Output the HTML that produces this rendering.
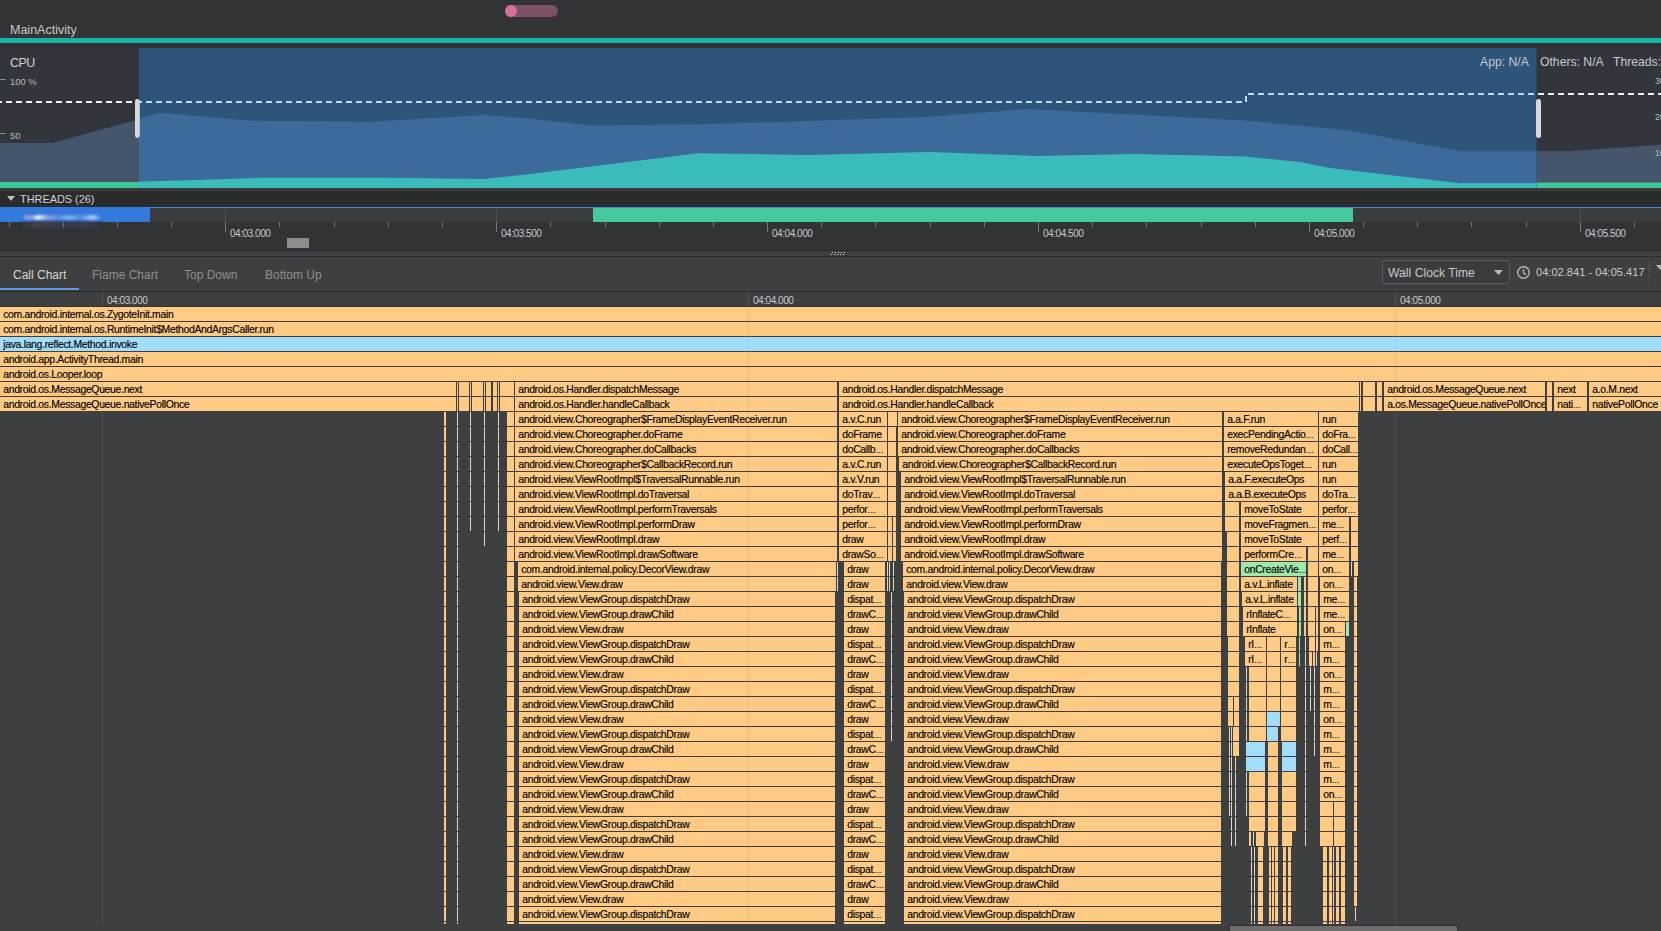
<!DOCTYPE html><html><head><meta charset="utf-8"><title>Call Chart</title><style>
*{margin:0;padding:0}
html,body{width:1661px;height:931px;overflow:hidden;background:#3e3f41}
body{position:relative;font-family:"Liberation Sans",sans-serif}
.a{position:absolute}
.t{white-space:nowrap;line-height:1}
#ch{position:absolute;left:0;top:307px;width:1661px;height:624px;background:#3e3f41}
#cv{position:absolute;left:0;top:0;width:1661px;height:931px}
i,b{position:absolute;display:block;font-style:normal;font-weight:normal}
b{height:14px;overflow:hidden;white-space:nowrap;font-size:10.4px;letter-spacing:-0.3px;line-height:16px;color:#000;padding-left:3.2px;-webkit-text-stroke:0.15px #000;box-sizing:border-box;text-overflow:clip}
s{text-decoration:none;font-size:8.4px;letter-spacing:-0.2px}
.o{background:#feca84}.u{background:#a2defc}.g{background:#9eeaae}
.os{background:repeating-linear-gradient(to bottom,#feca84 0,#feca84 14px,transparent 14px,transparent 15px)}
.us{background:repeating-linear-gradient(to bottom,#a2defc 0,#a2defc 14px,transparent 14px,transparent 15px)}
.c{background:#e2d8c6}.cs{background:repeating-linear-gradient(to bottom,#e2d8c6 0,#e2d8c6 14px,transparent 14px,transparent 15px)}
.gs{background:repeating-linear-gradient(to bottom,#9eeaae 0,#9eeaae 14px,transparent 14px,transparent 15px)}
.hl{position:absolute;font-size:10px;letter-spacing:-0.45px;line-height:1;color:#c8c8c8;white-space:nowrap}
</style></head><body>
<div class="a" style="left:0;top:0;width:1661px;height:38px;background:#323335"></div>
<div class="a t" style="left:10px;top:24px;font-size:12.5px;color:#c8c8c8">MainActivity</div>
<div class="a" style="left:505px;top:5px;width:53px;height:12px;border-radius:6px;background:#7c5166"></div>
<div class="a" style="left:505px;top:5px;width:12px;height:12px;border-radius:6px;background:#d4739b"></div>
<div class="a" style="left:0;top:38px;width:1661px;height:5px;background:#17b3a3"></div>
<div class="a" style="left:0;top:43px;width:1661px;height:5px;background:#323033"></div>
<svg class="a" style="left:0;top:0" width="1661" height="190" viewBox="0 0 1661 190"><defs><clipPath id="cs"><rect x="139" y="0" width="1397.5" height="190"/></clipPath><clipPath id="cu"><rect x="0" y="0" width="139" height="190"/><rect x="1536.5" y="0" width="124.5" height="190"/></clipPath></defs><rect x="0" y="48" width="1661" height="140" fill="#32363c"/><g clip-path="url(#cu)"><polygon points="0,143 52,143 138,119.5 159,112.7 250,120.6 371,121.8 484,115 530,118.7 592,125.5 698,124.3 771,122.3 930,116.8 1028,109 1245,120.6 1330,128.4 1357,131.7 1460,151.3 1568,151.3 1661,144.7 1661,188 0,188" fill="#45556b"/><polygon points="0,182 138,182 139,181.6 180,180.5 262,177.7 383,177.7 484,179 530,174 698,153.2 807,154.9 930,152 1038,156 1134,154 1245,156.5 1300,162 1330,168 1460,183.3 1536,183.3 1537,182.6 1661,182.4 1661,188 0,188" fill="#3fc99b"/></g><g clip-path="url(#cs)"><rect x="0" y="48" width="1661" height="140" fill="#2d5479"/><polygon points="0,143 52,143 138,119.5 159,112.7 250,120.6 371,121.8 484,115 530,118.7 592,125.5 698,124.3 771,122.3 930,116.8 1028,109 1245,120.6 1330,128.4 1357,131.7 1460,151.3 1568,151.3 1661,144.7 1661,188 0,188" fill="#3c6b9b"/><polygon points="0,182 138,182 139,181.6 180,180.5 262,177.7 383,177.7 484,179 530,174 698,153.2 807,154.9 930,152 1038,156 1134,154 1245,156.5 1300,162 1330,168 1460,183.3 1536,183.3 1537,182.6 1661,182.4 1661,188 0,188" fill="#3bbcba"/></g><g clip-path="url(#cu)"><path d="M0,102 H1246 V94 H1661" stroke="#f0f0f0" stroke-width="2" fill="none" stroke-dasharray="6 4" stroke-dashoffset="4"/></g><g clip-path="url(#cs)"><path d="M0,102 H1246 V94 H1661" stroke="#b5dcf8" stroke-width="2" fill="none" stroke-dasharray="6 4" stroke-dashoffset="4"/></g><rect x="0" y="79" width="6" height="1" fill="#8a8d90"/><rect x="0" y="133" width="6" height="1" fill="#8a8d90"/><rect x="135" y="99" width="4.8" height="39" rx="2.4" fill="#d8d8d8"/><rect x="1536" y="99" width="5" height="39" rx="2.5" fill="#d8d8d8"/></svg>
<div class="a t" style="left:10px;top:57px;font-size:12.4px;letter-spacing:-0.5px;color:#d0d0d0">CPU</div>
<div class="a t" style="left:10px;top:77px;font-size:9.4px;color:#bdbdbd">100 %</div>
<div class="a t" style="left:10px;top:131px;font-size:9.4px;color:#bdbdbd">50</div>
<div class="a t" style="left:1480px;top:56px;font-size:12.2px;color:#c4c8cc">App: N/A</div>
<div class="a t" style="left:1540px;top:56px;font-size:12.2px;color:#c4c8cc">Others: N/A</div>
<div class="a t" style="left:1613px;top:56px;font-size:12.2px;color:#c4c8cc">Threads:</div>
<div class="a t" style="left:1655px;top:77px;font-size:8.6px;color:#bdbdbd">30</div>
<div class="a t" style="left:1655px;top:113px;font-size:8.6px;color:#bdbdbd">20</div>
<div class="a t" style="left:1655px;top:149px;font-size:8.6px;color:#bdbdbd">10</div>
<div class="a" style="left:0;top:188px;width:1661px;height:3px;background:#38393b"></div>
<div class="a" style="left:0;top:191px;width:1661px;height:16px;background:#2b2b2c"></div>
<svg class="a" style="left:7px;top:196px" width="8" height="6"><polygon points="0,0 8,0 4,5" fill="#c0c0c0"/></svg>
<div class="a t" style="left:20px;top:194px;font-size:10.9px;color:#cfcfcf">THREADS (26)</div>
<div class="a" style="left:0;top:206px;width:1661px;height:1px;background:#1f2f47"></div>
<div class="a" style="left:0;top:207px;width:1661px;height:1px;background:#4f82cc"></div>
<div class="a" style="left:0;top:208px;width:1661px;height:14px;background:#3a3c3f"></div>
<div class="a" style="left:0;top:207px;width:150px;height:15px;background:#3679dd"></div>
<div class="a" style="left:593px;top:208px;width:760px;height:14px;background:#46c8a1"></div>
<div class="a" style="left:24px;top:215px;width:76px;height:5px;background:linear-gradient(90deg,rgba(170,170,240,.6),rgba(190,170,230,.7) 12%,rgba(230,255,255,.95) 18%,rgba(200,230,255,.8) 24%,rgba(190,160,220,.7) 32%,rgba(120,170,230,.5) 45%,rgba(150,200,240,.7) 60%,rgba(110,160,230,.5) 75%,rgba(180,210,255,.9) 90%,rgba(120,160,230,.4));filter:blur(0.8px)"></div>
<div class="a" style="left:0;top:222px;width:1661px;height:28px;background:#313335"></div>
<div class="a" style="left:20px;top:221px;width:84px;height:7px;background:linear-gradient(90deg,rgba(40,50,70,.5),rgba(70,70,80,.8) 20%,rgba(50,60,80,.8) 50%,rgba(60,60,90,.8) 80%,rgba(40,50,70,.4));filter:blur(1.2px)"></div>
<div class="a" style="left:9px;top:222px;width:1px;height:5px;background:#707376"></div>
<div class="a" style="left:63px;top:222px;width:1px;height:5px;background:#707376"></div>
<div class="a" style="left:117px;top:222px;width:1px;height:5px;background:#707376"></div>
<div class="a" style="left:171px;top:222px;width:1px;height:5px;background:#707376"></div>
<div class="a" style="left:225px;top:208px;width:1px;height:14px;background:#4b4d50"></div>
<div class="a" style="left:225px;top:222px;width:1px;height:10px;background:#75787b"></div>
<div class="a" style="left:279px;top:222px;width:1px;height:5px;background:#707376"></div>
<div class="a" style="left:334px;top:222px;width:1px;height:5px;background:#707376"></div>
<div class="a" style="left:388px;top:222px;width:1px;height:5px;background:#707376"></div>
<div class="a" style="left:442px;top:222px;width:1px;height:5px;background:#707376"></div>
<div class="a" style="left:496px;top:208px;width:1px;height:14px;background:#4b4d50"></div>
<div class="a" style="left:496px;top:222px;width:1px;height:10px;background:#75787b"></div>
<div class="a" style="left:550px;top:222px;width:1px;height:5px;background:#707376"></div>
<div class="a" style="left:605px;top:222px;width:1px;height:5px;background:#707376"></div>
<div class="a" style="left:659px;top:222px;width:1px;height:5px;background:#707376"></div>
<div class="a" style="left:713px;top:222px;width:1px;height:5px;background:#707376"></div>
<div class="a" style="left:767px;top:222px;width:1px;height:10px;background:#75787b"></div>
<div class="a" style="left:821px;top:222px;width:1px;height:5px;background:#707376"></div>
<div class="a" style="left:875px;top:222px;width:1px;height:5px;background:#707376"></div>
<div class="a" style="left:930px;top:222px;width:1px;height:5px;background:#707376"></div>
<div class="a" style="left:984px;top:222px;width:1px;height:5px;background:#707376"></div>
<div class="a" style="left:1038px;top:222px;width:1px;height:10px;background:#75787b"></div>
<div class="a" style="left:1092px;top:222px;width:1px;height:5px;background:#707376"></div>
<div class="a" style="left:1146px;top:222px;width:1px;height:5px;background:#707376"></div>
<div class="a" style="left:1201px;top:222px;width:1px;height:5px;background:#707376"></div>
<div class="a" style="left:1255px;top:222px;width:1px;height:5px;background:#707376"></div>
<div class="a" style="left:1309px;top:222px;width:1px;height:10px;background:#75787b"></div>
<div class="a" style="left:1363px;top:222px;width:1px;height:5px;background:#707376"></div>
<div class="a" style="left:1417px;top:222px;width:1px;height:5px;background:#707376"></div>
<div class="a" style="left:1471px;top:222px;width:1px;height:5px;background:#707376"></div>
<div class="a" style="left:1526px;top:222px;width:1px;height:5px;background:#707376"></div>
<div class="a" style="left:1580px;top:208px;width:1px;height:14px;background:#4b4d50"></div>
<div class="a" style="left:1580px;top:222px;width:1px;height:10px;background:#75787b"></div>
<div class="a" style="left:1634px;top:222px;width:1px;height:5px;background:#707376"></div>
<div class="a t" style="left:230px;top:229px;font-size:10px;letter-spacing:-0.45px;color:#c8c8c8">04:03.000</div>
<div class="a t" style="left:501px;top:229px;font-size:10px;letter-spacing:-0.45px;color:#c8c8c8">04:03.500</div>
<div class="a t" style="left:772px;top:229px;font-size:10px;letter-spacing:-0.45px;color:#c8c8c8">04:04.000</div>
<div class="a t" style="left:1043px;top:229px;font-size:10px;letter-spacing:-0.45px;color:#c8c8c8">04:04.500</div>
<div class="a t" style="left:1314px;top:229px;font-size:10px;letter-spacing:-0.45px;color:#c8c8c8">04:05.000</div>
<div class="a t" style="left:1585px;top:229px;font-size:10px;letter-spacing:-0.45px;color:#c8c8c8">04:05.500</div>
<div class="a" style="left:287px;top:238px;width:22px;height:10px;background:#8c8c8c"></div>
<div class="a" style="left:0;top:250px;width:1661px;height:1px;background:#2b2b2b"></div>
<div class="a" style="left:0;top:251px;width:1661px;height:5px;background:#3d3f42"></div>
<div class="a" style="left:832px;top:252px;width:1px;height:1px;background:#e0e0e0"></div>
<div class="a" style="left:835px;top:252px;width:1px;height:1px;background:#e0e0e0"></div>
<div class="a" style="left:838px;top:252px;width:1px;height:1px;background:#e0e0e0"></div>
<div class="a" style="left:841px;top:252px;width:1px;height:1px;background:#e0e0e0"></div>
<div class="a" style="left:844px;top:252px;width:1px;height:1px;background:#e0e0e0"></div>
<div class="a" style="left:831px;top:254px;width:1px;height:1px;background:#e0e0e0"></div>
<div class="a" style="left:834px;top:254px;width:1px;height:1px;background:#e0e0e0"></div>
<div class="a" style="left:837px;top:254px;width:1px;height:1px;background:#e0e0e0"></div>
<div class="a" style="left:840px;top:254px;width:1px;height:1px;background:#e0e0e0"></div>
<div class="a" style="left:843px;top:254px;width:1px;height:1px;background:#e0e0e0"></div>
<div class="a" style="left:0;top:256px;width:1661px;height:1px;background:#2b2b2b"></div>
<div class="a" style="left:0;top:257px;width:1661px;height:34px;background:#3e3f41"></div>
<div class="a t" style="left:13px;top:269px;font-size:12px;color:#d6d6d6">Call Chart</div>
<div class="a t" style="left:92px;top:269px;font-size:12px;color:#8c8f92">Flame Chart</div>
<div class="a t" style="left:184px;top:269px;font-size:12px;color:#8c8f92">Top Down</div>
<div class="a t" style="left:265px;top:269px;font-size:12px;color:#8c8f92">Bottom Up</div>
<div class="a" style="left:0;top:288px;width:79px;height:2px;background:#6499e0"></div>
<div class="a" style="left:1382px;top:260px;width:128px;height:24px;border:1px solid #5b5e61;border-radius:2px;background:#3a3d40;box-sizing:border-box"></div>
<div class="a t" style="left:1388px;top:267px;font-size:12.2px;color:#c8c8c8">Wall Clock Time</div>
<svg class="a" style="left:1494px;top:270px" width="9" height="5"><polygon points="0,0 9,0 4.5,5" fill="#b8b8b8"/></svg>
<svg class="a" style="left:1516px;top:265px" width="15" height="15" viewBox="0 0 15 15"><circle cx="7.5" cy="7.5" r="5.8" stroke="#b8b8b8" stroke-width="1.4" fill="none"/><path d="M7.5,4 V7.8 L10,9.6" stroke="#b8b8b8" stroke-width="1.3" fill="none"/></svg>
<div class="a t" style="left:1536px;top:267px;font-size:11.1px;color:#c8c8c8">04:02.841 - 04:05.417</div>
<div class="a" style="left:1649px;top:262px;width:1px;height:21px;background:repeating-linear-gradient(#777 0 1px,transparent 1px 3px)"></div>
<svg class="a" style="left:1656px;top:265px" width="9" height="5"><polygon points="0,0 9,0 4.5,5" fill="#b8b8b8"/></svg>
<div class="a" style="left:0;top:291px;width:1661px;height:1px;background:#2b2b2b"></div>
<div class="a" style="left:0;top:292px;width:1661px;height:15px;background:#3e3f41"></div>
<div class="a" style="left:102px;top:292px;width:1px;height:632px;background:#515356"></div>
<div class="hl" style="left:107px;top:296px">04:03.000</div>
<div class="a" style="left:748px;top:292px;width:1px;height:632px;background:#515356"></div>
<div class="hl" style="left:753px;top:296px">04:04.000</div>
<div class="a" style="left:1395px;top:292px;width:1px;height:632px;background:#515356"></div>
<div class="hl" style="left:1400px;top:296px">04:05.000</div>
<div class="a" style="left:0;top:306px;width:1661px;height:1px;background:#323232"></div>
<div id="cv"><b class="o" style="left:0px;top:307px;width:1661px">com.android.internal.os.ZygoteInit.main</b>
<b class="o" style="left:0px;top:322px;width:1661px">com.android.internal.os.RuntimeInit$MethodAndArgsCaller.run</b>
<b class="u" style="left:0px;top:337px;width:1661px">java.lang.reflect.Method.invoke</b>
<b class="o" style="left:0px;top:352px;width:1661px">android.app.ActivityThread.main</b>
<b class="o" style="left:0px;top:367px;width:1661px">android.os.Looper.loop</b>
<b class="o" style="left:0px;top:382px;width:456px">android.os.MessageQueue.next</b>
<b class="o" style="left:0px;top:397px;width:456px">android.os.MessageQueue.nativePollOnce</b>
<i class="os" style="left:457px;top:382px;width:1px;height:29px"></i>
<i class="os" style="left:459px;top:382px;width:10px;height:29px"></i>
<i class="os" style="left:470px;top:382px;width:1px;height:29px"></i>
<i class="os" style="left:472px;top:382px;width:11px;height:29px"></i>
<i class="os" style="left:484px;top:382px;width:1px;height:29px"></i>
<i class="os" style="left:486px;top:382px;width:5px;height:29px"></i>
<i class="os" style="left:493px;top:382px;width:4px;height:29px"></i>
<i class="os" style="left:498px;top:382px;width:1px;height:29px"></i>
<i class="os" style="left:500px;top:382px;width:14px;height:29px"></i>
<i class="os" style="left:444px;top:412px;width:2px;height:512px"></i>
<i class="cs" style="left:457px;top:412px;width:1px;height:512px"></i>
<i class="cs" style="left:470px;top:412px;width:1px;height:119px"></i>
<i class="cs" style="left:484px;top:412px;width:1px;height:134px"></i>
<i class="cs" style="left:498px;top:412px;width:1px;height:119px"></i>
<i class="os" style="left:507px;top:412px;width:7px;height:512px"></i>
<b class="o" style="left:515px;top:382px;width:322px">android.os.Handler.dispatchMessage</b>
<b class="o" style="left:515px;top:397px;width:322px">android.os.Handler.handleCallback</b>
<b class="o" style="left:515px;top:412px;width:322px">android.view.Choreographer$FrameDisplayEventReceiver.run</b>
<b class="o" style="left:515px;top:427px;width:322px">android.view.Choreographer.doFrame</b>
<b class="o" style="left:515px;top:442px;width:322px">android.view.Choreographer.doCallbacks</b>
<b class="o" style="left:515px;top:457px;width:322px">android.view.Choreographer$CallbackRecord.run</b>
<b class="o" style="left:515px;top:472px;width:322px">android.view.ViewRootImpl$TraversalRunnable.run</b>
<b class="o" style="left:515px;top:487px;width:322px">android.view.ViewRootImpl.doTraversal</b>
<b class="o" style="left:515px;top:502px;width:322px">android.view.ViewRootImpl.performTraversals</b>
<b class="o" style="left:515px;top:517px;width:322px">android.view.ViewRootImpl.performDraw</b>
<b class="o" style="left:515px;top:532px;width:322px">android.view.ViewRootImpl.draw</b>
<b class="o" style="left:515px;top:547px;width:322px">android.view.ViewRootImpl.drawSoftware</b>
<b class="o" style="left:518px;top:562px;width:318px">com.android.internal.policy.DecorView.draw</b>
<b class="o" style="left:518px;top:577px;width:318px">android.view.View.draw</b>
<b class="o" style="left:519px;top:592px;width:316px">android.view.ViewGroup.dispatchDraw</b>
<b class="o" style="left:519px;top:607px;width:316px">android.view.ViewGroup.drawChild</b>
<b class="o" style="left:519px;top:622px;width:316px">android.view.View.draw</b>
<b class="o" style="left:519px;top:637px;width:316px">android.view.ViewGroup.dispatchDraw</b>
<b class="o" style="left:519px;top:652px;width:316px">android.view.ViewGroup.drawChild</b>
<b class="o" style="left:519px;top:667px;width:316px">android.view.View.draw</b>
<b class="o" style="left:519px;top:682px;width:316px">android.view.ViewGroup.dispatchDraw</b>
<b class="o" style="left:519px;top:697px;width:316px">android.view.ViewGroup.drawChild</b>
<b class="o" style="left:519px;top:712px;width:316px">android.view.View.draw</b>
<b class="o" style="left:519px;top:727px;width:316px">android.view.ViewGroup.dispatchDraw</b>
<b class="o" style="left:519px;top:742px;width:316px">android.view.ViewGroup.drawChild</b>
<b class="o" style="left:519px;top:757px;width:316px">android.view.View.draw</b>
<b class="o" style="left:519px;top:772px;width:316px">android.view.ViewGroup.dispatchDraw</b>
<b class="o" style="left:519px;top:787px;width:316px">android.view.ViewGroup.drawChild</b>
<b class="o" style="left:519px;top:802px;width:316px">android.view.View.draw</b>
<b class="o" style="left:519px;top:817px;width:316px">android.view.ViewGroup.dispatchDraw</b>
<b class="o" style="left:519px;top:832px;width:316px">android.view.ViewGroup.drawChild</b>
<b class="o" style="left:519px;top:847px;width:316px">android.view.View.draw</b>
<b class="o" style="left:519px;top:862px;width:316px">android.view.ViewGroup.dispatchDraw</b>
<b class="o" style="left:519px;top:877px;width:316px">android.view.ViewGroup.drawChild</b>
<b class="o" style="left:519px;top:892px;width:316px">android.view.View.draw</b>
<b class="o" style="left:519px;top:907px;width:316px">android.view.ViewGroup.dispatchDraw</b>
<b class="o" style="left:519px;top:922px;width:316px;height:2px">android.view.ViewGroup.drawChild</b>
<i class="cs" style="left:837px;top:562px;width:1px;height:29px"></i>
<b class="o" style="left:839px;top:382px;width:520px">android.os.Handler.dispatchMessage</b>
<b class="o" style="left:839px;top:397px;width:520px">android.os.Handler.handleCallback</b>
<b class="o" style="left:839px;top:412px;width:48px">a.v.C.run</b>
<b class="o" style="left:839px;top:427px;width:48px">doFrame</b>
<b class="o" style="left:839px;top:442px;width:48px">doCallb<s>…</s></b>
<b class="o" style="left:839px;top:457px;width:48px">a.v.C.run</b>
<b class="o" style="left:839px;top:472px;width:48px">a.v.V.run</b>
<b class="o" style="left:839px;top:487px;width:48px">doTrav<s>…</s></b>
<b class="o" style="left:839px;top:502px;width:48px">perfor<s>…</s></b>
<b class="o" style="left:839px;top:517px;width:48px">perfor<s>…</s></b>
<b class="o" style="left:839px;top:532px;width:48px">draw</b>
<b class="o" style="left:839px;top:547px;width:48px">drawSo<s>…</s></b>
<b class="o" style="left:844px;top:562px;width:41px">draw</b>
<b class="o" style="left:844px;top:577px;width:41px">draw</b>
<b class="o" style="left:844px;top:592px;width:41px">dispat<s>…</s></b>
<b class="o" style="left:844px;top:607px;width:41px">drawC<s>…</s></b>
<b class="o" style="left:844px;top:622px;width:41px">draw</b>
<b class="o" style="left:844px;top:637px;width:41px">dispat<s>…</s></b>
<b class="o" style="left:844px;top:652px;width:41px">drawC<s>…</s></b>
<b class="o" style="left:844px;top:667px;width:41px">draw</b>
<b class="o" style="left:844px;top:682px;width:41px">dispat<s>…</s></b>
<b class="o" style="left:844px;top:697px;width:41px">drawC<s>…</s></b>
<b class="o" style="left:844px;top:712px;width:41px">draw</b>
<b class="o" style="left:844px;top:727px;width:41px">dispat<s>…</s></b>
<b class="o" style="left:844px;top:742px;width:41px">drawC<s>…</s></b>
<b class="o" style="left:844px;top:757px;width:41px">draw</b>
<b class="o" style="left:844px;top:772px;width:41px">dispat<s>…</s></b>
<b class="o" style="left:844px;top:787px;width:41px">drawC<s>…</s></b>
<b class="o" style="left:844px;top:802px;width:41px">draw</b>
<b class="o" style="left:844px;top:817px;width:41px">dispat<s>…</s></b>
<b class="o" style="left:844px;top:832px;width:41px">drawC<s>…</s></b>
<b class="o" style="left:844px;top:847px;width:41px">draw</b>
<b class="o" style="left:844px;top:862px;width:41px">dispat<s>…</s></b>
<b class="o" style="left:844px;top:877px;width:41px">drawC<s>…</s></b>
<b class="o" style="left:844px;top:892px;width:41px">draw</b>
<b class="o" style="left:844px;top:907px;width:41px">dispat<s>…</s></b>
<b class="o" style="left:844px;top:922px;width:41px;height:2px">drawC<s>…</s></b>
<i class="o" style="left:888px;top:412px;width:9px;height:14px"></i>
<i class="os" style="left:888px;top:427px;width:8px;height:44px"></i>
<i class="os" style="left:888px;top:472px;width:8px;height:44px"></i>
<i class="os" style="left:888px;top:517px;width:4px;height:44px"></i>
<i class="os" style="left:893px;top:517px;width:3px;height:44px"></i>
<i class="cs" style="left:887px;top:562px;width:1px;height:29px"></i>
<i class="cs" style="left:889px;top:562px;width:1px;height:29px"></i>
<i class="cs" style="left:893px;top:562px;width:1px;height:29px"></i>
<i class="cs" style="left:891px;top:592px;width:1px;height:149px"></i>
<b class="o" style="left:898px;top:412px;width:324px">android.view.Choreographer$FrameDisplayEventReceiver.run</b>
<b class="o" style="left:898px;top:427px;width:324px">android.view.Choreographer.doFrame</b>
<b class="o" style="left:898px;top:442px;width:324px">android.view.Choreographer.doCallbacks</b>
<b class="o" style="left:899px;top:457px;width:323px">android.view.Choreographer$CallbackRecord.run</b>
<b class="o" style="left:901px;top:472px;width:321px">android.view.ViewRootImpl$TraversalRunnable.run</b>
<b class="o" style="left:901px;top:487px;width:321px">android.view.ViewRootImpl.doTraversal</b>
<b class="o" style="left:901px;top:502px;width:321px">android.view.ViewRootImpl.performTraversals</b>
<b class="o" style="left:901px;top:517px;width:321px">android.view.ViewRootImpl.performDraw</b>
<b class="o" style="left:901px;top:532px;width:321px">android.view.ViewRootImpl.draw</b>
<b class="o" style="left:901px;top:547px;width:321px">android.view.ViewRootImpl.drawSoftware</b>
<b class="o" style="left:903px;top:562px;width:318px">com.android.internal.policy.DecorView.draw</b>
<b class="o" style="left:903px;top:577px;width:318px">android.view.View.draw</b>
<b class="o" style="left:904px;top:592px;width:317px">android.view.ViewGroup.dispatchDraw</b>
<b class="o" style="left:904px;top:607px;width:317px">android.view.ViewGroup.drawChild</b>
<b class="o" style="left:904px;top:622px;width:317px">android.view.View.draw</b>
<b class="o" style="left:904px;top:637px;width:317px">android.view.ViewGroup.dispatchDraw</b>
<b class="o" style="left:904px;top:652px;width:317px">android.view.ViewGroup.drawChild</b>
<b class="o" style="left:904px;top:667px;width:317px">android.view.View.draw</b>
<b class="o" style="left:904px;top:682px;width:317px">android.view.ViewGroup.dispatchDraw</b>
<b class="o" style="left:904px;top:697px;width:317px">android.view.ViewGroup.drawChild</b>
<b class="o" style="left:904px;top:712px;width:317px">android.view.View.draw</b>
<b class="o" style="left:904px;top:727px;width:317px">android.view.ViewGroup.dispatchDraw</b>
<b class="o" style="left:904px;top:742px;width:317px">android.view.ViewGroup.drawChild</b>
<b class="o" style="left:904px;top:757px;width:317px">android.view.View.draw</b>
<b class="o" style="left:904px;top:772px;width:317px">android.view.ViewGroup.dispatchDraw</b>
<b class="o" style="left:904px;top:787px;width:317px">android.view.ViewGroup.drawChild</b>
<b class="o" style="left:904px;top:802px;width:317px">android.view.View.draw</b>
<b class="o" style="left:904px;top:817px;width:317px">android.view.ViewGroup.dispatchDraw</b>
<b class="o" style="left:904px;top:832px;width:317px">android.view.ViewGroup.drawChild</b>
<b class="o" style="left:904px;top:847px;width:317px">android.view.View.draw</b>
<b class="o" style="left:904px;top:862px;width:317px">android.view.ViewGroup.dispatchDraw</b>
<b class="o" style="left:904px;top:877px;width:317px">android.view.ViewGroup.drawChild</b>
<b class="o" style="left:904px;top:892px;width:317px">android.view.View.draw</b>
<b class="o" style="left:904px;top:907px;width:317px">android.view.ViewGroup.dispatchDraw</b>
<b class="o" style="left:904px;top:922px;width:317px;height:2px">android.view.ViewGroup.drawChild</b>
<b class="o" style="left:1224px;top:412px;width:94px">a.a.F.run</b>
<b class="o" style="left:1224px;top:427px;width:94px">execPendingActio<s>…</s></b>
<b class="o" style="left:1224px;top:442px;width:94px">removeRedundan<s>…</s></b>
<b class="o" style="left:1224px;top:457px;width:94px">executeOpsToget<s>…</s></b>
<b class="o" style="left:1225px;top:472px;width:93px">a.a.F.executeOps</b>
<b class="o" style="left:1225px;top:487px;width:93px">a.a.B.executeOps</b>
<i class="os" style="left:1225px;top:502px;width:14px;height:29px"></i>
<i class="os" style="left:1227px;top:532px;width:12px;height:104px"></i>
<b class="o" style="left:1241px;top:502px;width:77px">moveToState</b>
<b class="o" style="left:1241px;top:517px;width:77px">moveFragmen<s>…</s></b>
<b class="o" style="left:1241px;top:532px;width:77px">moveToState</b>
<b class="o" style="left:1241px;top:547px;width:65px">performCre<s>…</s></b>
<b class="g" style="left:1241px;top:562px;width:65px">onCreateVie<s>…</s></b>
<i class="os" style="left:1308px;top:547px;width:10px;height:29px"></i>
<b class="o" style="left:1241px;top:577px;width:56px">a.v.L.inflate</b>
<b class="o" style="left:1242px;top:592px;width:55px">a.v.L.inflate</b>
<b class="o" style="left:1243px;top:607px;width:54px">rInflateC<s>…</s></b>
<b class="o" style="left:1243px;top:622px;width:54px">rInflate</b>
<i class="gs" style="left:1298px;top:577px;width:3px;height:29px"></i>
<i class="gs" style="left:1299px;top:607px;width:2px;height:29px"></i>
<i class="gs" style="left:1299px;top:637px;width:1px;height:29px"></i>
<i class="os" style="left:1304px;top:577px;width:2px;height:59px"></i>
<i class="cs" style="left:1305px;top:637px;width:1px;height:209px"></i>
<i class="os" style="left:1308px;top:577px;width:10px;height:29px"></i>
<i class="os" style="left:1308px;top:607px;width:7px;height:29px"></i>
<i class="os" style="left:1316px;top:607px;width:2px;height:44px"></i>
<i class="o" style="left:1309px;top:637px;width:6px;height:14px"></i>
<i class="o" style="left:1309px;top:652px;width:3px;height:14px"></i>
<i class="o" style="left:1313px;top:652px;width:2px;height:14px"></i>
<i class="c" style="left:1316px;top:652px;width:1px;height:14px"></i>
<i class="cs" style="left:1310px;top:667px;width:1px;height:44px"></i>
<i class="cs" style="left:1314px;top:667px;width:1px;height:89px"></i>
<i class="os" style="left:1228px;top:637px;width:11px;height:59px"></i>
<i class="os" style="left:1228px;top:697px;width:5px;height:29px"></i>
<i class="os" style="left:1234px;top:697px;width:5px;height:29px"></i>
<i class="cs" style="left:1229px;top:727px;width:1px;height:89px"></i>
<i class="cs" style="left:1231px;top:727px;width:1px;height:119px"></i>
<i class="os" style="left:1233px;top:727px;width:6px;height:29px"></i>
<i class="cs" style="left:1235px;top:757px;width:1px;height:89px"></i>
<b class="o" style="left:1245px;top:637px;width:21px">rI<s>…</s></b>
<b class="o" style="left:1245px;top:652px;width:21px">rI<s>…</s></b>
<i class="os" style="left:1267px;top:637px;width:13px;height:74px"></i>
<b class="o" style="left:1281px;top:637px;width:15px">r<s>…</s></b>
<b class="o" style="left:1281px;top:652px;width:15px">r<s>…</s></b>
<i class="cs" style="left:1246px;top:667px;width:1px;height:74px"></i>
<i class="os" style="left:1249px;top:667px;width:17px;height:74px"></i>
<i class="os" style="left:1281px;top:667px;width:15px;height:74px"></i>
<i class="u" style="left:1267px;top:712px;width:13px;height:14px"></i>
<i class="u" style="left:1267px;top:727px;width:11px;height:14px"></i>
<i class="us" style="left:1246px;top:742px;width:19px;height:29px"></i>
<i class="os" style="left:1268px;top:742px;width:10px;height:104px"></i>
<i class="us" style="left:1282px;top:742px;width:14px;height:29px"></i>
<i class="cs" style="left:1246px;top:772px;width:1px;height:44px"></i>
<i class="os" style="left:1249px;top:772px;width:16px;height:59px"></i>
<i class="os" style="left:1282px;top:772px;width:14px;height:59px"></i>
<i class="o" style="left:1282px;top:832px;width:10px;height:14px"></i>
<i class="o" style="left:1249px;top:832px;width:2px;height:14px"></i>
<i class="c" style="left:1253px;top:832px;width:1px;height:14px"></i>
<i class="o" style="left:1256px;top:832px;width:8px;height:14px"></i>
<i class="cs" style="left:1251px;top:847px;width:1px;height:77px"></i>
<i class="cs" style="left:1254px;top:847px;width:1px;height:77px"></i>
<i class="os" style="left:1258px;top:847px;width:5px;height:77px"></i>
<i class="os" style="left:1269px;top:847px;width:2px;height:77px"></i>
<i class="os" style="left:1272px;top:847px;width:2px;height:77px"></i>
<i class="os" style="left:1275px;top:847px;width:3px;height:77px"></i>
<i class="os" style="left:1283px;top:847px;width:3px;height:77px"></i>
<i class="os" style="left:1288px;top:847px;width:3px;height:77px"></i>
<b class="o" style="left:1319px;top:412px;width:39px">run</b>
<b class="o" style="left:1319px;top:427px;width:39px">doFra<s>…</s></b>
<b class="o" style="left:1319px;top:442px;width:39px">doCall<s>…</s></b>
<b class="o" style="left:1319px;top:457px;width:39px">run</b>
<b class="o" style="left:1319px;top:472px;width:39px">run</b>
<b class="o" style="left:1319px;top:487px;width:39px">doTra<s>…</s></b>
<b class="o" style="left:1319px;top:502px;width:39px">perfor<s>…</s></b>
<b class="o" style="left:1319px;top:517px;width:30px">me<s>…</s></b>
<b class="o" style="left:1319px;top:532px;width:30px">perf<s>…</s></b>
<b class="o" style="left:1319px;top:547px;width:30px">me<s>…</s></b>
<b class="o" style="left:1319px;top:562px;width:30px">on<s>…</s></b>
<i class="os" style="left:1351px;top:517px;width:7px;height:44px"></i>
<i class="c" style="left:1351px;top:562px;width:1px;height:14px"></i>
<i class="o" style="left:1354px;top:562px;width:4px;height:14px"></i>
<b class="o" style="left:1320px;top:577px;width:29px">on<s>…</s></b>
<b class="o" style="left:1320px;top:592px;width:29px">me<s>…</s></b>
<b class="o" style="left:1320px;top:607px;width:29px">me<s>…</s></b>
<b class="o" style="left:1320px;top:622px;width:25px">on<s>…</s></b>
<b class="o" style="left:1320px;top:637px;width:25px">m<s>…</s></b>
<b class="o" style="left:1320px;top:652px;width:25px">m<s>…</s></b>
<b class="o" style="left:1320px;top:667px;width:25px">on<s>…</s></b>
<b class="o" style="left:1320px;top:682px;width:25px">m<s>…</s></b>
<b class="o" style="left:1320px;top:697px;width:25px">m<s>…</s></b>
<b class="o" style="left:1320px;top:712px;width:25px">on<s>…</s></b>
<b class="o" style="left:1320px;top:727px;width:25px">m<s>…</s></b>
<b class="o" style="left:1320px;top:742px;width:25px">m<s>…</s></b>
<b class="o" style="left:1320px;top:757px;width:25px">m<s>…</s></b>
<b class="o" style="left:1320px;top:772px;width:25px">m<s>…</s></b>
<b class="o" style="left:1320px;top:787px;width:25px">on<s>…</s></b>
<i class="g" style="left:1346px;top:622px;width:3px;height:14px"></i>
<i class="os" style="left:1354px;top:577px;width:3px;height:329px"></i>
<i class="c" style="left:1355px;top:907px;width:1px;height:14px"></i>
<i class="os" style="left:1320px;top:802px;width:13px;height:44px"></i>
<i class="os" style="left:1334px;top:802px;width:11px;height:44px"></i>
<i class="os" style="left:1323px;top:847px;width:4px;height:77px"></i>
<i class="os" style="left:1329px;top:847px;width:3px;height:77px"></i>
<i class="cs" style="left:1333px;top:847px;width:1px;height:77px"></i>
<i class="os" style="left:1336px;top:847px;width:3px;height:77px"></i>
<i class="os" style="left:1341px;top:847px;width:4px;height:77px"></i>
<i class="os" style="left:1360px;top:382px;width:1px;height:29px"></i>
<i class="os" style="left:1363px;top:382px;width:12px;height:29px"></i>
<i class="os" style="left:1377px;top:382px;width:5px;height:29px"></i>
<i class="os" style="left:1547px;top:382px;width:5px;height:29px"></i>
<b class="o" style="left:1384px;top:382px;width:161px">android.os.MessageQueue.next</b>
<b class="o" style="left:1384px;top:397px;width:161px">a.os.MessageQueue.nativePollOnce</b>
<b class="o" style="left:1554px;top:382px;width:33px">next</b>
<b class="o" style="left:1554px;top:397px;width:33px">nati<s>…</s></b>
<b class="o" style="left:1589px;top:382px;width:72px">a.o.M.next</b>
<b class="o" style="left:1589px;top:397px;width:72px">nativePollOnce</b></div>
<div class="a" style="left:102px;top:307px;width:1px;height:617px;background:rgba(60,60,60,.10)"></div>
<div class="a" style="left:748px;top:307px;width:1px;height:617px;background:rgba(60,60,60,.10)"></div>
<div class="a" style="left:1395px;top:307px;width:1px;height:617px;background:rgba(60,60,60,.10)"></div>
<div class="a" style="left:1229px;top:925px;width:229px;height:6px;background:#6f6f6f;border:1px solid #2f3032;border-bottom:none;box-sizing:border-box"></div>
</body></html>
